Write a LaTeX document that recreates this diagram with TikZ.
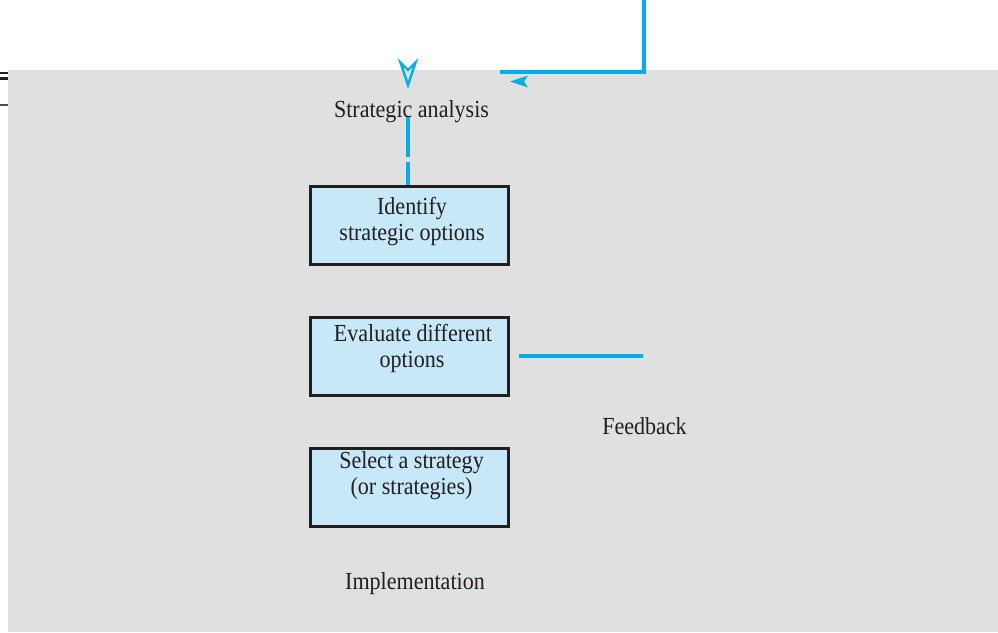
\documentclass[tikz,border=0pt]{standalone}
\usepackage{fontspec}
\setmainfont{Liberation Serif}[FakeStretch=0.9]
\definecolor{bgray}{HTML}{E0E0E0}
\definecolor{cyanline}{HTML}{00AEEF}
\definecolor{boxfill}{HTML}{C6E8F9}
\definecolor{ink}{HTML}{231F20}
\tikzset{
  stagebox/.style={draw=ink, line width=3pt, fill=boxfill, minimum width=198pt, minimum height=78pt, inner sep=0pt},
  lbl/.style={text=ink, font=\fontsize{24.5}{26}\selectfont, inner sep=0pt, anchor=base},
  flow/.style={draw=cyanline, line width=3.2pt},
}
\begin{document}
\begin{tikzpicture}[x=1pt,y=-1pt]
\useasboundingbox (0,0) rectangle (998,632);
\fill[bgray] (8,70) rectangle (998,632);
% left marks
\draw[ink, line width=2pt] (0,72.5) -- (8,72.5);
\draw[ink, line width=3pt] (0,78) -- (8,78);
\draw[ink!80, line width=2pt] (0,105) -- (8,105);
% boxes
\node[stagebox] (b1) at (409,225) {};
\node[stagebox] (b2) at (409,356) {};
\node[stagebox] (b3) at (409,487) {};
% texts
\node[lbl] (sa) at (411.5,117) {Strategic analysis};
\node[lbl] (t1a) at (412,214) {Identify};
\node[lbl] (t1b) at (412,240) {strategic options};
\node[lbl] (t2a) at (413,341) {Evaluate different};
\node[lbl] (t2b) at (412,367) {options};
\node[lbl] (t3a) at (411.5,468) {Select a strategy};
\node[lbl] (t3b) at (411.5,494) {(or strategies)};
\node[lbl] (fb) at (644.5,434) {Feedback};
\node[lbl] (im) at (415,589) {Implementation};
% connectors
\coordinate (ftop) at (644,-2);
\coordinate (fcorner) at (644,72);
\coordinate (fend) at (500,72);
\draw[flow] (ftop) -- (fcorner) -- (fend);
\coordinate (evs) at (519,356);
\coordinate (eve) at (643,356);
\draw[flow] (evs) -- (eve);
\coordinate (d1s) at (408,117);
\coordinate (d1e) at (408,157);
\coordinate (d2s) at (408,162);
\draw[flow] (d1s) -- (d1e);
\draw[flow] (d2s) -- (b1.north -| d2s);
% arrowheads
\draw[cyanline, line width=2.4pt, line join=miter] (400.5,62.5) -- (408,70) -- (415.5,62.5) -- (408,85) -- cycle;
\fill[cyanline] (510,81.5) -- (528,75.5) -- (524,81.5) -- (528,87.5) -- cycle;
\end{tikzpicture}
\end{document}
